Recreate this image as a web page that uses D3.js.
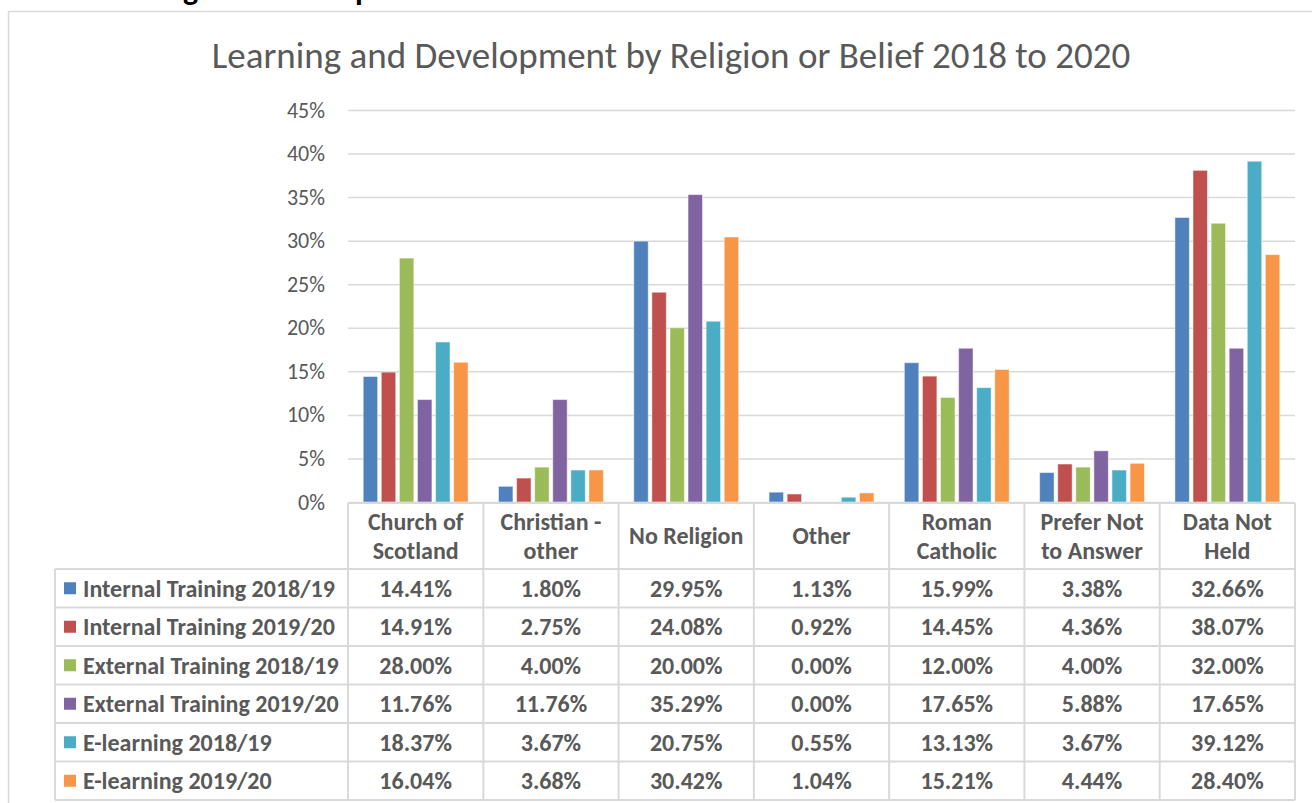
<!DOCTYPE html>
<html>
<head>
<meta charset="utf-8">
<script src="https://cdn.jsdelivr.net/npm/d3@7"></script>
<style>
  body { margin: 0; background: #fff; }
  svg { display: block; font-family: Carlito, "Open Sans", sans-serif; }
</style>
</head>
<body>
<div id="chart"></div>
<script>
// categories, with the way each header cell wraps
var categories = ['Church of Scotland', 'Christian - other', 'No Religion', 'Other', 'Roman Catholic', 'Prefer Not to Answer', 'Data Not Held'];
var categoryLines = [['Church of', 'Scotland'], ['Christian -', 'other'], ['No Religion'], ['Other'], ['Roman', 'Catholic'], ['Prefer Not', 'to Answer'], ['Data Not', 'Held']];

var seriesNames = ['Internal Training 2018/19', 'Internal Training 2019/20', 'External Training 2018/19', 'External Training 2019/20', 'E-learning 2018/19', 'E-learning 2019/20'];
var seriesColors = ['#4f81bd', '#c0504d', '#9bbb59', '#8064a2', '#4bacc6', '#f79646'];

// percentages, one array per series, in category order
var internal1819 = [14.41, 1.80, 29.95, 1.13, 15.99, 3.38, 32.66];
var internal1920 = [14.91, 2.75, 24.08, 0.92, 14.45, 4.36, 38.07];
var external1819 = [28.00, 4.00, 20.00, 0.00, 12.00, 4.00, 32.00];
var external1920 = [11.76, 11.76, 35.29, 0.00, 17.65, 5.88, 17.65];
var elearn1819 = [18.37, 3.67, 20.75, 0.55, 13.13, 3.67, 39.12];
var elearn1920 = [16.04, 3.68, 30.42, 1.04, 15.21, 4.44, 28.40];
var seriesValues = [internal1819, internal1920, external1819, external1920, elearn1819, elearn1920];

var yTicks = [0, 5, 10, 15, 20, 25, 30, 35, 40, 45];

var title = 'Learning and Development by Religion or Belief 2018 to 2020';

var width = 1312, height = 803;
var textColor = '#595959', lineColor = '#d9d9d9';

var svg = d3.select('#chart').append('svg').attr('width', width).attr('height', height);

// heading of the surrounding document, cut off by the top of the picture
svg.append('text')
	.attr('x', 84).attr('y', 0)
	.attr('font-weight', 'bold').attr('font-size', 32).attr('fill', '#000')
	.text('Learning and Development');

// chart frame
svg.append('rect')
	.attr('x', 8.5).attr('y', 11.5)
	.attr('width', width + 10).attr('height', height)
	.attr('fill', '#fff').attr('stroke', lineColor).attr('stroke-width', 1.5);

svg.append('text')
	.attr('x', 671).attr('y', 68)
	.attr('text-anchor', 'middle')
	.attr('font-size', 37).attr('fill', textColor)
	.text(title);

var plotLeft = 348, plotRight = 1295;

var x0 = d3.scaleBand().domain(categories).range([plotLeft, plotRight]);
var x1 = d3.scaleBand().domain(seriesNames).range([0, x0.bandwidth()]).paddingInner(0.2).paddingOuter(0.84);
var y = d3.scaleLinear().domain([0, 45]).range([502, 110]);

// gridlines and percentage labels
var yAxis = svg.append('g')
	.attr('transform', 'translate(' + plotLeft + ',0)')
	.call(d3.axisLeft(y)
		.tickValues(yTicks)
		.tickSize(-(plotRight - plotLeft))
		.tickPadding(23)
		.tickFormat(function(d) { return d + '%'; }));
yAxis.select('.domain').remove();
yAxis.selectAll('.tick line').attr('stroke', lineColor).attr('stroke-width', 1.5);
yAxis.selectAll('.tick text')
	.attr('fill', textColor)
	.attr('font-size', 22)
	.attr('font-family', 'Carlito, "Open Sans", sans-serif');

// bars
var groups = svg.append('g').selectAll('g')
	.data(seriesNames)
	.join('g')
		.attr('fill', function(d, i) { return seriesColors[i]; });

groups.selectAll('rect')
	.data(function(name, i) {
		return seriesValues[i].map(function(v, j) { return {name: name, category: categories[j], value: v}; });
	})
	.join('rect')
		.attr('x', function(d) { return x0(d.category) + x1(d.name); })
		.attr('width', x1.bandwidth())
		.attr('y', function(d) { return y(d.value); })
		.attr('height', function(d) { return y(0) - y(d.value); })
		.attr('stroke', '#fff').attr('stroke-opacity', 0.5).attr('stroke-width', 1);

// data table
var tableTop = 503, headerBottom = 569, tableBottom = 800, tableLeft = 55;
var rowY = d3.scaleBand().domain(seriesNames).range([headerBottom, tableBottom]);

var table = svg.append('g');
var lines = table.append('g').attr('stroke', lineColor).attr('stroke-width', 2).attr('fill', 'none');

lines.append('line').attr('x1', plotLeft).attr('x2', plotRight).attr('y1', tableTop).attr('y2', tableTop);
lines.selectAll('.hrow')
	.data(seriesNames)
	.join('line')
		.attr('class', 'hrow')
		.attr('x1', tableLeft).attr('x2', plotRight)
		.attr('y1', function(d) { return rowY(d); })
		.attr('y2', function(d) { return rowY(d); });
lines.append('line').attr('x1', tableLeft).attr('x2', plotRight).attr('y1', tableBottom).attr('y2', tableBottom);
lines.append('line').attr('x1', tableLeft).attr('x2', tableLeft).attr('y1', headerBottom).attr('y2', tableBottom);
lines.selectAll('.vcol')
	.data(categories)
	.join('line')
		.attr('class', 'vcol')
		.attr('x1', function(d) { return x0(d); }).attr('x2', function(d) { return x0(d); })
		.attr('y1', tableTop).attr('y2', tableBottom);
lines.append('line').attr('x1', plotRight).attr('x2', plotRight).attr('y1', tableTop).attr('y2', tableBottom);

// header cells
var headerMid = (tableTop + headerBottom) / 2;
table.selectAll('.head')
	.data(categories)
	.join('text')
		.attr('class', 'head')
		.attr('x', function(d) { return x0(d) + x0.bandwidth() / 2; })
		.attr('y', headerMid)
		.attr('text-anchor', 'middle')
		.attr('font-size', 24).attr('font-weight', 'bold').attr('fill', textColor)
		.each(function(d, i) {
			var ls = categoryLines[i];
			var t = d3.select(this);
			ls.forEach(function(line, k) {
				t.append('tspan')
					.attr('x', x0(d) + x0.bandwidth() / 2)
					.attr('dy', k === 0 ? ((0.35 - (ls.length - 1) * 0.6) + 'em') : '1.2em')
					.text(line);
			});
		});

// series rows
var rows = table.selectAll('.row')
	.data(seriesNames)
	.join('g')
		.attr('class', 'row')
		.attr('transform', function(d) { return 'translate(0,' + (rowY(d) + rowY.bandwidth() / 2) + ')'; });

rows.append('rect')
	.attr('x', 64).attr('y', -6).attr('width', 12).attr('height', 12)
	.attr('fill', function(d, i) { return seriesColors[i]; });

rows.append('text')
	.attr('x', 83).attr('dy', '0.36em')
	.attr('font-size', 24).attr('font-weight', 'bold').attr('fill', textColor)
	.text(function(d) { return d; });

rows.selectAll('.val')
	.data(function(d, i) { return seriesValues[i]; })
	.join('text')
		.attr('class', 'val')
		.attr('x', function(d, j) { return x0(categories[j]) + x0.bandwidth() / 2; })
		.attr('dy', '0.36em')
		.attr('text-anchor', 'middle')
		.attr('font-size', 24).attr('font-weight', 'bold').attr('fill', textColor)
		.text(function(d) { return d.toFixed(2) + '%'; });
</script>
</body>
</html>
